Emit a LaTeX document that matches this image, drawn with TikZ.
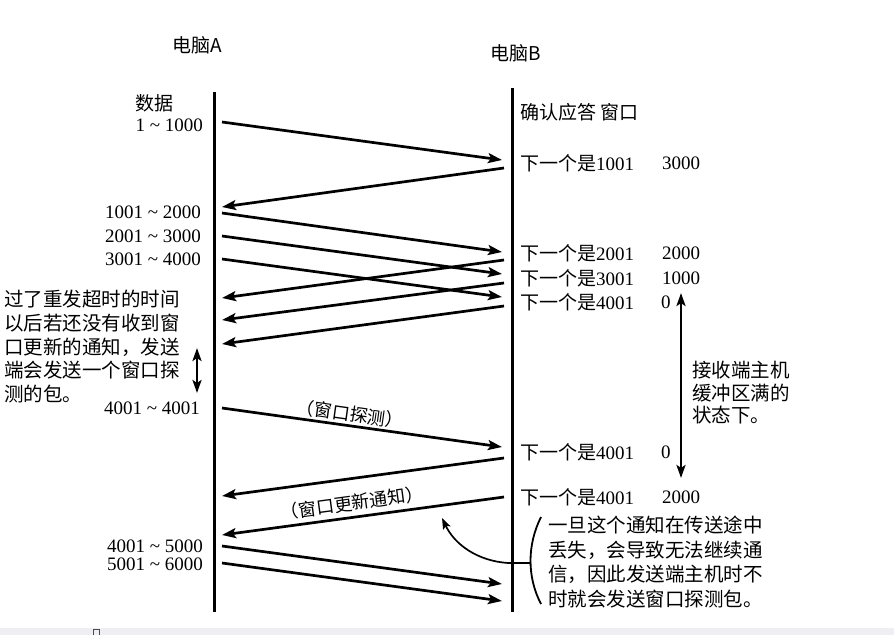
\documentclass[tikz,border=0pt]{standalone}
\usepackage{fontspec}
\setmainfont{Liberation Serif}
\newfontfamily\cjk{Noto Sans CJK SC}
\usetikzlibrary{arrows.meta}
\newcommand\zhtext[1]{{\cjk #1}}
\begin{document}
\begin{tikzpicture}[x=1pt,y=-1pt,
  life/.style={line width=3pt},
  msg/.style={line width=2.7pt,-{Stealth[length=14pt,width=10pt,inset=3pt]}},
  dbl/.style={line width=2.7pt,{Stealth[length=13pt,width=9pt,inset=3pt]}-{Stealth[length=13pt,width=9pt,inset=3pt]}},
  txt/.style={inner sep=0pt,font=\fontsize{19}{23}\selectfont},
  head/.style={inner sep=0pt,font=\cjk\fontsize{19}{23}\selectfont},
  para/.style={inner sep=0pt,align=left,anchor=north west,font=\cjk\fontsize{19.5}{23.7}\selectfont},
  rot/.style={inner sep=0pt,font=\cjk\fontsize{18}{22}\selectfont}
]
\useasboundingbox (0,0) rectangle (894,635);
\fill[white] (0,0) rectangle (894,635);
% bottom band
\fill[fill={rgb,255:red,238;green,238;blue,243}] (0,628) rectangle (894,635);
\draw[line width=0.8pt, black!70] (93,635) -- (93,629) -- (99,629) -- (99,635);

% headers
\node[head] (hA) at (197,45) {电脑A};
\node[head] (hB) at (516,53) {电脑B};

% lifelines
\coordinate (At) at (214,92);  \coordinate (Ab) at (214,612);
\coordinate (Bt) at (512,88);  \coordinate (Bb) at (512,612);
\draw[life] (At) -- (Ab);
\draw[life] (Bt) -- (Bb);

% left labels
\node[txt,anchor=west] (ds) at (135,103) {\zhtext{数据}};
\node[txt,anchor=east] (d1) at (203,125) {1 \textasciitilde\ 1000};
\node[txt,anchor=east] (d2) at (201,212) {1001 \textasciitilde\ 2000};
\node[txt,anchor=east] (d3) at (201,236) {2001 \textasciitilde\ 3000};
\node[txt,anchor=east] (d4) at (201,259) {3001 \textasciitilde\ 4000};
\node[txt,anchor=east] (d5) at (200,408) {4001 \textasciitilde\ 4001};
\node[txt,anchor=east] (d6) at (203,546) {4001 \textasciitilde\ 5000};
\node[txt,anchor=east] (d7) at (203,564) {5001 \textasciitilde\ 6000};

\node[para] (lp) at (4,290) {过了重发超时的时间\\以后若还没有收到窗\\口更新的通知，发送\\端会发送一个窗口探\\测的包。};
\coordinate (la1) at (197,348); \coordinate (la2) at (197,393);
\draw[dbl] (la1) -- (la2);

% right labels
\node[txt,anchor=west] (r0) at (520,112) {\zhtext{确认应答 窗口}};
\node[txt,anchor=west] (r1) at (520,163) {\zhtext{下一个是}1001};
\node[txt,anchor=west] (w1) at (662,163) {3000};
\node[txt,anchor=west] (r2) at (520,253) {\zhtext{下一个是}2001};
\node[txt,anchor=west] (w2) at (662,253) {2000};
\node[txt,anchor=west] (r3) at (520,278) {\zhtext{下一个是}3001};
\node[txt,anchor=west] (w3) at (662,278) {1000};
\node[txt,anchor=west] (r4) at (520,302) {\zhtext{下一个是}4001};
\node[txt,anchor=west] (w4) at (661,302) {0};
\node[txt,anchor=west] (r5) at (520,452) {\zhtext{下一个是}4001};
\node[txt,anchor=west] (w5) at (661,452) {0};
\node[txt,anchor=west] (r6) at (520,497) {\zhtext{下一个是}4001};
\node[txt,anchor=west] (w6) at (662,497) {2000};

\coordinate (ra1) at (681,293); \coordinate (ra2) at (681,478);
\draw[dbl] (ra1) -- (ra2);
\node[para,font=\cjk\fontsize{19.5}{22.5}\selectfont] (rp) at (692,361) {接收端主机\\缓冲区满的\\状态下。};

\node[para,font=\cjk\fontsize{19.5}{24.5}\selectfont] (bp) at (548,516) {一旦这个通知在传送途中\\丢失，会导致无法继续通\\信，因此发送端主机时不\\时就会发送窗口探测包。};

% messages
\coordinate (a1s) at (222,122); \coordinate (a1e) at (502,160);
\coordinate (a2s) at (504,168); \coordinate (a2e) at (222,207);
\coordinate (a3s) at (222,213); \coordinate (a3e) at (502,252);
\coordinate (a4s) at (222,236); \coordinate (a4e) at (502,274);
\coordinate (a5s) at (222,259); \coordinate (a5e) at (502,297);
\coordinate (a6s) at (504,260); \coordinate (a6e) at (222,298);
\coordinate (a7s) at (504,283); \coordinate (a7e) at (222,320);
\coordinate (a8s) at (504,306); \coordinate (a8e) at (222,344);
\coordinate (a9s) at (222,408); \coordinate (a9e) at (502,447);
\coordinate (a10s) at (504,458); \coordinate (a10e) at (222,496);
\coordinate (a11s) at (504,497); \coordinate (a11e) at (222,535);
\coordinate (a12s) at (222,546); \coordinate (a12e) at (502,584);
\coordinate (a13s) at (222,563); \coordinate (a13e) at (502,601);
\foreach \i in {1,...,13} {\draw[msg] (a\i s) -- (a\i e);}

\node[rot,rotate=-8] (probe) at (350,414) {（窗口探测）};
\node[rot,rotate=7.7] (upd) at (352,503) {（窗口更新通知）};

% bracket and curved arrow
\coordinate (bk1) at (541,517); \coordinate (bk2) at (541,604);
\draw[line width=1.8pt] (bk1) .. controls (527,545) and (527,577) .. (bk2);
\coordinate (cv0) at (531,563); \coordinate (cv1) at (442,518);
\draw[line width=1.7pt,-{Stealth[length=11pt,width=8pt,inset=2pt]}] (cv0) -- (508,563) .. controls (478,561) and (455,545) .. (cv1);
\end{tikzpicture}
\end{document}
